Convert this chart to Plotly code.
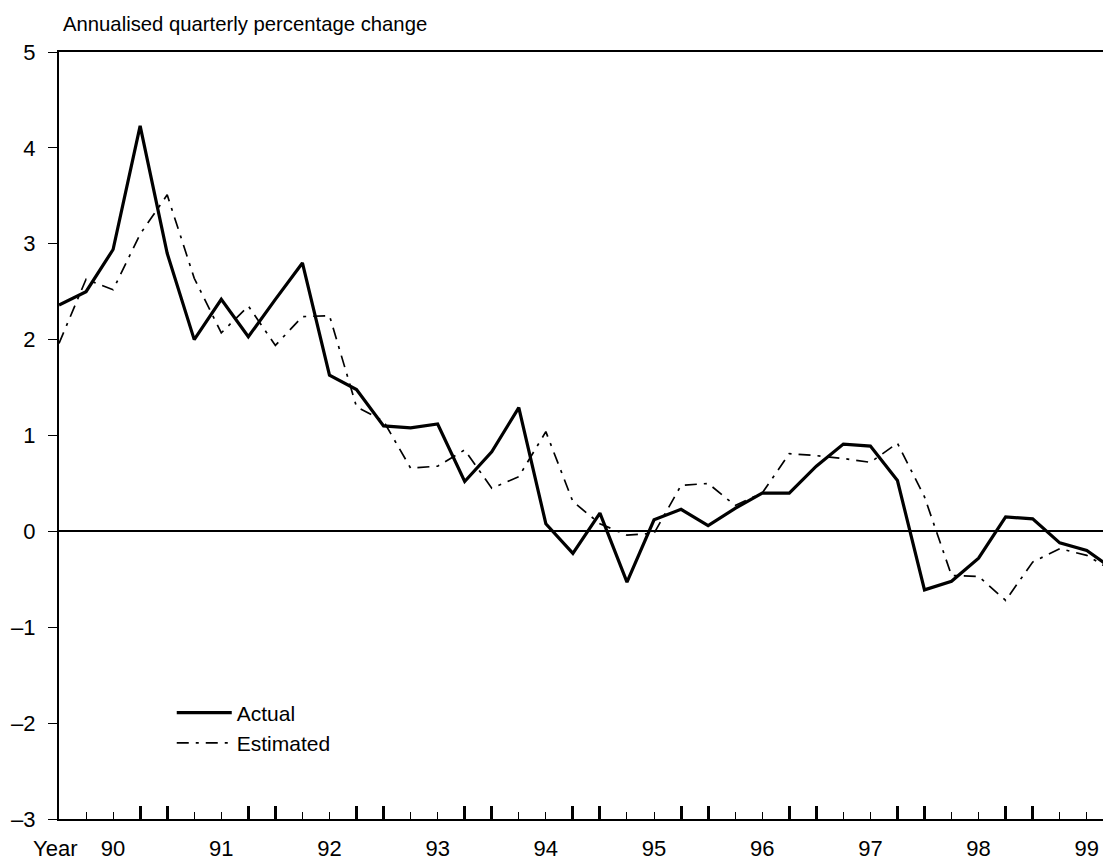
import plotly.graph_objects as go

# quarter index (0 = first quarter shown)
quarter_idx = list(range(40))

actual = [2.36, 2.50, 2.94, 4.23, 2.90, 2.00, 2.42, 2.03, 2.42, 2.80,
          1.63, 1.48, 1.10, 1.08, 1.12, 0.52, 0.83, 1.29, 0.08, -0.23,
          0.19, -0.53, 0.12, 0.23, 0.06, 0.24, 0.40, 0.40, 0.68, 0.91,
          0.89, 0.53, -0.61, -0.52, -0.28, 0.15, 0.13, -0.12, -0.20, -0.40]

estimated = [1.96, 2.63, 2.52, 3.10, 3.51, 2.64, 2.07, 2.35, 1.94, 2.24,
             2.25, 1.30, 1.15, 0.66, 0.68, 0.85, 0.45, 0.57, 1.04, 0.31,
             0.08, -0.04, -0.02, 0.48, 0.50, 0.27, 0.40, 0.81, 0.79, 0.76,
             0.72, 0.92, 0.36, -0.46, -0.47, -0.72, -0.32, -0.18, -0.25, -0.42]

year_label_pos = [2, 6, 10, 14, 18, 22, 26, 30, 34, 38]
year_labels = ["90", "91", "92", "93", "94", "95", "96", "97", "98", "99"]
year_tick_pos = [0, 3, 4, 7, 8, 11, 12, 15, 16, 19, 20, 23, 24, 27, 28, 31, 32, 35, 36]

y_ticks = [-3, -2, -1, 0, 1, 2, 3, 4, 5]
y_ticktext = ["\u20133", "\u20132", "\u20131", "0", "1", "2", "3", "4", "5"]

FONT = "Liberation Sans, Arial, sans-serif"

fig = go.Figure()
fig.add_trace(go.Scatter(x=quarter_idx, y=actual, mode="lines", name="Actual",
                         line=dict(color="black", width=3.2)))
fig.add_trace(go.Scatter(x=quarter_idx, y=estimated, mode="lines", name="Estimated",
                         line=dict(color="black", width=1.7, dash="12px,7px,3px,7px")))
# helper trace so the overlay axis (long year ticks) is drawn
fig.add_trace(go.Scatter(x=[], y=[], xaxis="x2", showlegend=False, hoverinfo="skip"))

xr = [0, 38.6]
fig.update_layout(
    width=1103, height=864,
    margin=dict(l=59, r=0, t=52, b=45),
    paper_bgcolor="white", plot_bgcolor="white",
    font=dict(family=FONT, size=22, color="black"),
    showlegend=True,
    legend=dict(x=0.108, y=0.165, xanchor="left", yanchor="top",
                itemwidth=55, bgcolor="rgba(0,0,0,0)", font=dict(size=21)),
    xaxis=dict(range=xr, showgrid=False, zeroline=False,
               showline=True, linecolor="black", linewidth=2, mirror=True,
               tickmode="array", tickvals=year_label_pos, ticktext=year_labels,
               ticks="inside", ticklen=7, tickwidth=1, tickcolor="black",
               ticklabelstandoff=9, tickfont=dict(size=22),
               minor=dict(tickmode="linear", tick0=0, dtick=1, ticks="inside",
                          ticklen=7, tickwidth=1, tickcolor="black", showgrid=False)),
    xaxis2=dict(range=xr, overlaying="x", anchor="y", side="bottom",
                showgrid=False, zeroline=False, showline=False,
                tickmode="array", tickvals=year_tick_pos, showticklabels=False,
                ticks="inside", ticklen=13, tickwidth=3, tickcolor="black"),
    yaxis=dict(range=[-3, 5], showgrid=False, showline=True, linecolor="black",
               linewidth=2, zeroline=True, zerolinecolor="black", zerolinewidth=1.5,
               tickmode="array", tickvals=y_ticks, ticktext=y_ticktext,
               ticks="outside", ticklen=9, tickwidth=1, tickcolor="black",
               ticklabelstandoff=8, tickfont=dict(size=22)),
    annotations=[
        dict(text="Annualised quarterly percentage change", xref="paper", yref="paper",
             x=0.002, y=1.036, xanchor="left", yanchor="middle", showarrow=False,
             font=dict(size=20.3)),
        dict(text="Year", xref="paper", yref="paper", x=-0.027, y=-0.038,
             xanchor="left", yanchor="middle", showarrow=False, font=dict(size=22)),
    ],
)

fig.write_html("out.html",
               config={"displayModeBar": False},
               post_script="document.body.style.margin='0';"
                           "document.body.style.overflow='hidden';")
